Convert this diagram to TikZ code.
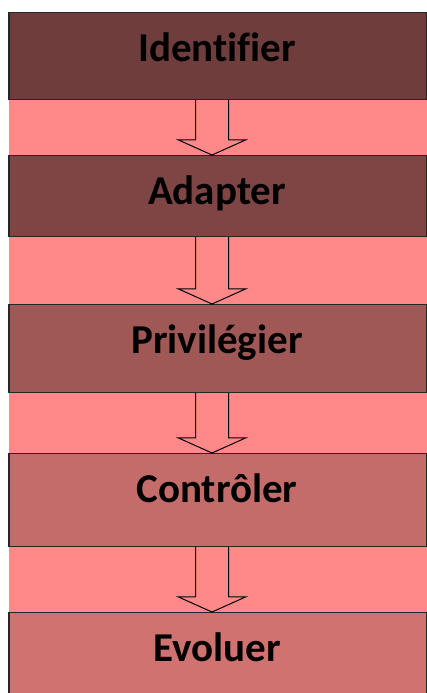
\documentclass[tikz,border=0pt]{standalone}
\usepackage{fontspec}
\setmainfont[Ligatures=NoCommon]{Carlito}
\usetikzlibrary{calc,positioning}

\definecolor{band}{HTML}{FF8888}
\definecolor{stepA}{HTML}{6E3D3C}
\definecolor{stepB}{HTML}{7E4544}
\definecolor{stepC}{HTML}{A05856}
\definecolor{stepD}{HTML}{C46C6A}
\definecolor{stepE}{HTML}{CF7270}

\tikzset{
  stepbox/.style={draw=black!85, line width=1.2pt, minimum width=418pt, inner sep=0pt, anchor=north},
  steptext/.style={anchor=base, font=\fontsize{41}{48}\selectfont\bfseries, text=black},
  blockarrow/.style={draw=black, line width=1pt, fill=band, line join=miter}
}

\begin{document}
\begin{tikzpicture}[x=1pt, y=1pt]
      \useasboundingbox (0,0) rectangle (427,693);
      \fill [white] (0,0) rectangle (427,693);
      \fill [band] (9,0) rectangle (427,681);

      % the five steps
      \node [stepbox, fill=stepA, minimum height=87pt, name=identifier] at (218,681) {};
      \node [stepbox, fill=stepB, minimum height=81pt, name=adapter] at (218,538) {};
      \node [stepbox, fill=stepC, minimum height=88pt, name=privilegier] at (218,389) {};
      \node [stepbox, fill=stepD, minimum height=93pt, name=controler] at (218,240) {};
      \node [stepbox, fill=stepE, minimum height=90pt, name=evoluer] at (218,81) {};

      \node [steptext, name=identifier-text] at ($(identifier.north)+(-1,-49.5)$) {Identifier};
      \node [steptext, name=adapter-text] at ($(adapter.north)+(-1,-49.5)$) {Adapter};
      \node [steptext, name=privilegier-text] at ($(privilegier.north)+(-1,-49.5)$) {Privilégier};
      \node [steptext, name=controler-text] at ($(controler.north)+(-1,-49.5)$) {Contrôler};
      \node [steptext, name=evoluer-text] at ($(evoluer.north)+(-1,-49.5)$) {Evoluer};

      % arrows between the steps
      \foreach \a/\b in {identifier/adapter, adapter/privilegier,
                         privilegier/controler, controler/evoluer}
      {
        \draw [blockarrow] ($(\a.south)+(-22.5,0)$) -- ($(\b.north)+(-22.5,15)$)
          -- ($(\b.north)+(-39.5,15)$) -- ($(\b.north)+(-6,0)$)
          -- ($(\b.north)+(27.5,15)$) -- ($(\b.north)+(10.5,15)$)
          -- ($(\a.south)+(10.5,0)$);
      }

    \end{tikzpicture}
\end{document}
